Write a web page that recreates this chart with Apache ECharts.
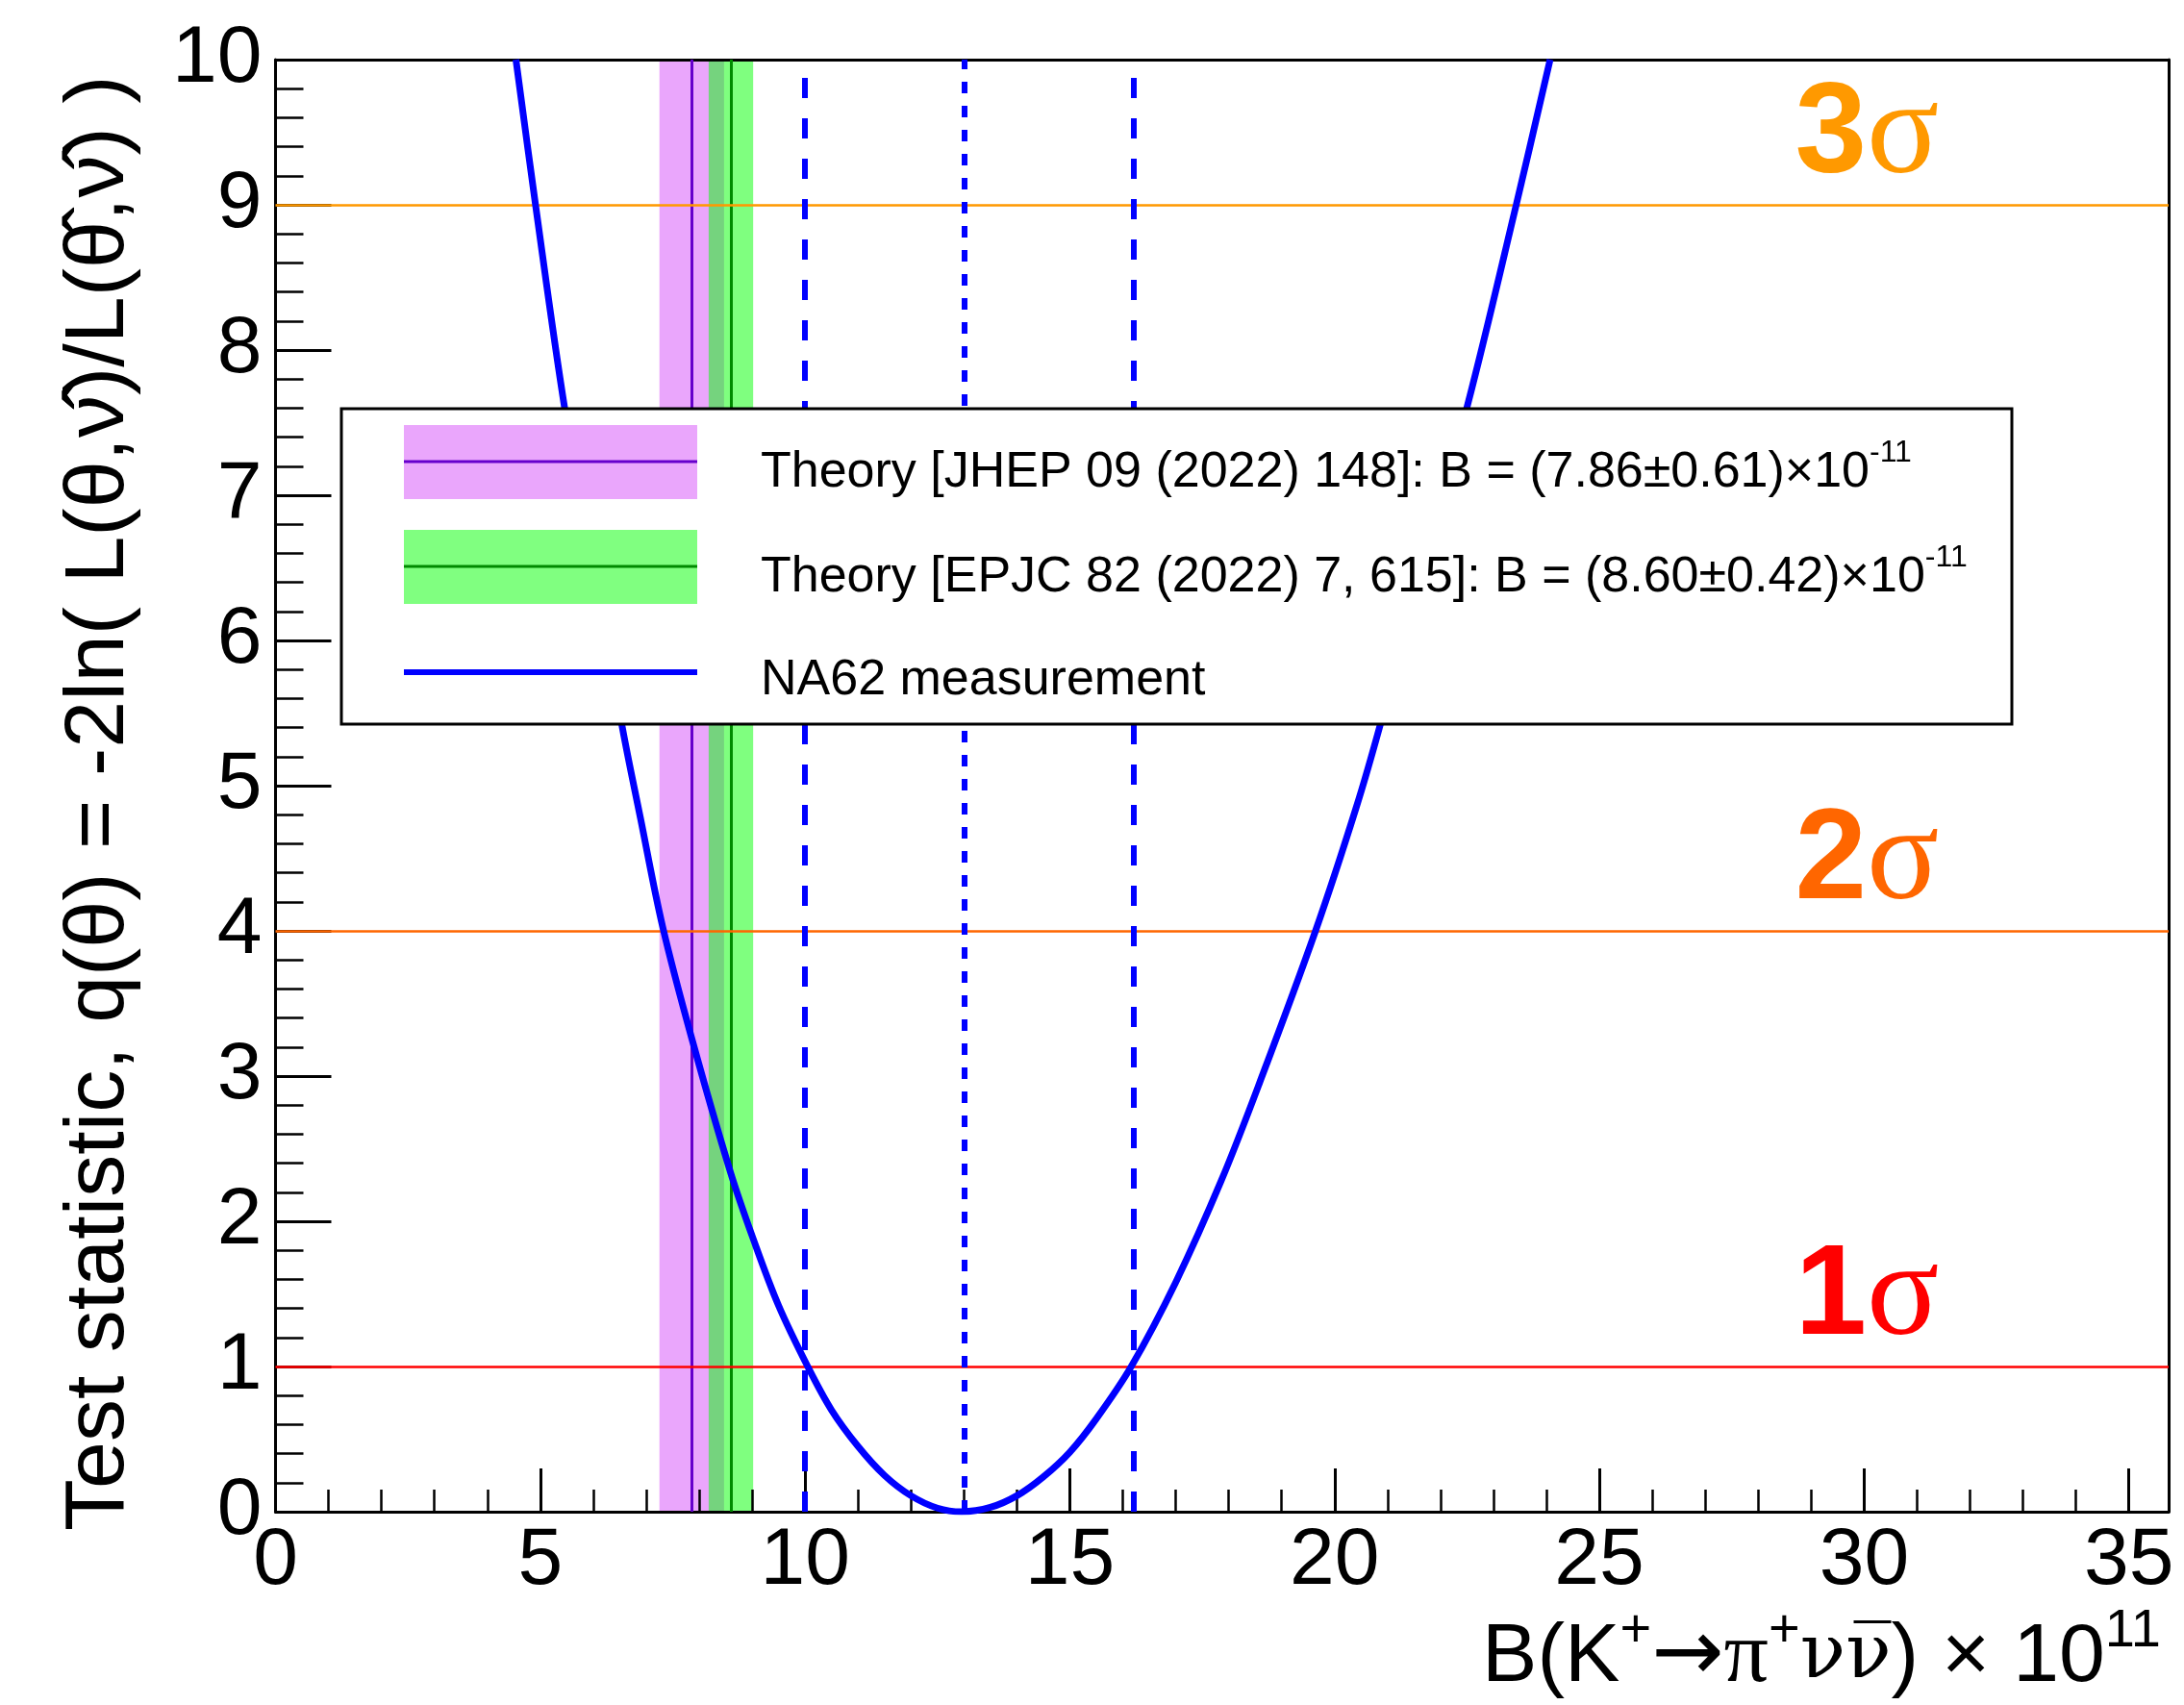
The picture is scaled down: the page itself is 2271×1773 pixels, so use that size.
<!DOCTYPE html>
<html><head><meta charset="utf-8">
<script src="https://cdn.jsdelivr.net/npm/echarts@6/dist/echarts.min.js"></script>
<style>html,body{margin:0;padding:0;background:#fff}#c{width:2271px;height:1773px}</style>
</head><body><div id="c"></div>
<script>
// ---------------- data ----------------
const xRange = [0, 35.75];
const yRange = [0, 10];
const xTicks = [0, 5, 10, 15, 20, 25, 30, 35];
const xMinorTicks = [1,2,3,4,6,7,8,9,11,12,13,14,16,17,18,19,21,22,23,24,26,27,28,29,31,32,33,34];
const yTicks = [0,1,2,3,4,5,6,7,8,9,10];

// NA62 test statistic curve: [B x 1e11, q]
const na62Curve = [
  [4.54,10.0],[4.91,9.0],[5.46,7.6],[5.78,7.0],[6.17,6.2],[6.55,5.40],[6.89,4.78],
  [7.31,4.03],[7.86,3.26],[8.59,2.34],[9.03,1.87],[9.5,1.42],[10.05,1.0],[10.5,0.70],
  [11.0,0.45],[11.5,0.25],[12.0,0.11],[12.5,0.025],[12.96,0.0],[13.5,0.03],[14.0,0.11],
  [14.5,0.24],[15.0,0.41],[15.5,0.64],[16.16,1.0],[17.0,1.58],[17.86,2.28],[18.59,2.96],
  [19.64,4.0],[20.4,4.84],[20.87,5.43],[21.5,6.3],[22.0,7.0],[22.51,7.62],[23.43,9.0],[24.07,10.0]
];
const na62Central = 13.0;
const na62Interval = [10.0, 16.2];

const theoryNames = ['Theory [JHEP 09 (2022) 148]', 'Theory [EPJC 82 (2022) 7, 615]'];
const theoryCentral = [7.86, 8.60];
const theoryError = [0.61, 0.42];

const sigmaLevels = [1, 4, 9];
const sigmaDigits = ['1', '2', '3'];
const sigmaColors = ['#ff0000', '#ff6600', '#ff9900'];
const sigmaLabelX = 30;

// ---------------- chart ----------------
const chart = echarts.init(document.getElementById('c'), null, {renderer: 'canvas'});
const FONT = "'Liberation Sans', Arial, Helvetica, sans-serif";
const SERIF = "'Liberation Serif', 'Times New Roman', serif";
const GREEKSERIF = "'DejaVu Serif', 'Liberation Serif', serif";

function band(i, color, z) {
  return {
    name: theoryNames[i], type: 'line', data: [], z: z, silent: true,
    markArea: { silent: true, itemStyle: { color: color },
      data: [[{ xAxis: theoryCentral[i] - theoryError[i] }, { xAxis: theoryCentral[i] + theoryError[i] }]] }
  };
}
function vline(name, values, color, width, type, z) {
  return {
    name: name, type: 'line', data: [], z: z, silent: true,
    markLine: { silent: true, symbol: ['none', 'none'], label: { show: false },
      lineStyle: { color: color, width: width, type: type },
      data: values.map(v => ({ xAxis: v })) }
  };
}

const AXZ = 4;
const option = {
  animation: false,
  backgroundColor: '#ffffff',
  grid: { left: 286.5, right: 16, top: 62, bottom: 201 },
  xAxis: [
    { type: 'value', min: xRange[0], max: xRange[1], position: 'bottom', z: AXZ,
      axisLine: { show: true, onZero: false, lineStyle: { color: '#000', width: 3 } },
      axisTick: { show: true, inside: true, length: 45, customValues: xTicks, lineStyle: { color: '#000', width: 3 } },
      axisLabel: { show: true, customValues: xTicks, fontSize: 84, fontFamily: FONT, color: '#000', margin: 10 },
      splitLine: { show: false } },
    { type: 'value', min: xRange[0], max: xRange[1], position: 'bottom', z: AXZ,
      axisLine: { show: false },
      axisTick: { show: true, inside: true, length: 23, customValues: xMinorTicks, lineStyle: { color: '#000', width: 2.5 } },
      axisLabel: { show: false }, splitLine: { show: false } },
    { type: 'value', min: xRange[0], max: xRange[1], position: 'top', z: AXZ,
      axisLine: { show: true, onZero: false, lineStyle: { color: '#000', width: 3 } },
      axisTick: { show: false }, axisLabel: { show: false }, splitLine: { show: false } }
  ],
  yAxis: [
    { type: 'value', min: yRange[0], max: yRange[1], interval: 1, position: 'left', z: AXZ,
      axisLine: { show: true, onZero: false, lineStyle: { color: '#000', width: 3 } },
      axisTick: { show: true, inside: true, length: 58, customValues: yTicks, lineStyle: { color: '#000', width: 3 } },
      minorTick: { show: true, splitNumber: 5, length: 29, lineStyle: { color: '#000', width: 2.5 } },
      axisLabel: { show: true, customValues: yTicks, fontSize: 84, fontFamily: FONT, color: '#000', margin: 14 },
      splitLine: { show: false } },
    { type: 'value', min: yRange[0], max: yRange[1], position: 'right', z: AXZ,
      axisLine: { show: true, onZero: false, lineStyle: { color: '#000', width: 3 } },
      axisTick: { show: false }, axisLabel: { show: false }, splitLine: { show: false } }
  ],
  series: [
    band(0, '#eaa6fc', 1),
    band(1, 'rgba(0,255,0,0.5)', 2),
    vline('JHEP central', [theoryCentral[0]], '#6600cc', 3, 'solid', 3),
    vline('EPJC central', [theoryCentral[1]], '#008a00', 3, 'solid', 3),
    { name: 'sigma levels', type: 'line', data: [], z: 5, silent: true,
      markLine: { silent: true, symbol: ['none', 'none'], label: { show: false },
        data: sigmaLevels.map((v, i) => ({ yAxis: v, lineStyle: { color: sigmaColors[i], width: 2.5, type: 'solid' } })) } },
    vline('NA62 interval', na62Interval, '#0000ff', 6, [21, 21], 6),
    vline('NA62 central', [na62Central], '#0000ff', 6, [12, 13], 6),
    { name: 'NA62 measurement', type: 'line', data: na62Curve, z: 7, showSymbol: false, silent: true,
      smooth: 0.35,
      lineStyle: { color: '#0000ff', width: 7 }, itemStyle: { color: '#0000ff' } },
    { name: 'sigma labels', type: 'scatter', z: 8, silent: true, symbolSize: 0,
      itemStyle: { opacity: 1 },
      data: sigmaLevels.map((v, i) => ({ value: [sigmaLabelX, v], digit: sigmaDigits[i],
        label: { color: sigmaColors[i] } })),
      label: { show: true, position: 'inside', offset: [3, -71], textBorderWidth: 0, opacity: 1,
        formatter: p => '{d|' + p.data.digit + '}{s|σ}',
        rich: {
          d: { fontFamily: FONT, fontWeight: 'bold', fontSize: 134, textBorderWidth: 0 },
          s: { fontFamily: SERIF, fontSize: 140, textBorderWidth: 0 }
        } } }
  ],
  graphic: [
    // legend box
    { type: 'group', zlevel: 1, z: 100, children: [
      { type: 'rect', zlevel: 1, z: 100, shape: { x: 355, y: 425, width: 1737, height: 328 },
        style: { fill: '#fff', stroke: '#000', lineWidth: 3 } },
      { type: 'rect', zlevel: 1, z: 101, shape: { x: 420, y: 442, width: 305, height: 77 }, style: { fill: '#eaa6fc' } },
      { type: 'line', zlevel: 1, z: 102, shape: { x1: 420, y1: 480, x2: 725, y2: 480 }, style: { stroke: '#6600cc', lineWidth: 3 } },
      { type: 'rect', zlevel: 1, z: 101, shape: { x: 420, y: 551, width: 305, height: 77 }, style: { fill: '#80ff80' } },
      { type: 'line', zlevel: 1, z: 102, shape: { x1: 420, y1: 589, x2: 725, y2: 589 }, style: { stroke: '#008a00', lineWidth: 3 } },
      { type: 'line', zlevel: 1, z: 102, shape: { x1: 420, y1: 699, x2: 725, y2: 699 }, style: { stroke: '#0000ff', lineWidth: 6 } },
      { type: 'text', zlevel: 1, z: 102, x: 791, y: 492, style: {
          text: '{n|' + theoryNames[0] + ': B = (' + theoryCentral[0].toFixed(2) + '±' + theoryError[0].toFixed(2) + ')×10}{s|-11}',
          textAlign: 'left', textVerticalAlign: 'middle', fill: '#000',
          rich: { n: { fontFamily: FONT, fontSize: 52, lineHeight: 74 }, s: { fontFamily: FONT, fontSize: 32, verticalAlign: 'top', lineHeight: 32 } } } },
      { type: 'text', zlevel: 1, z: 102, x: 791, y: 601, style: {
          text: '{n|' + theoryNames[1] + ': B = (' + theoryCentral[1].toFixed(2) + '±' + theoryError[1].toFixed(2) + ')×10}{s|-11}',
          textAlign: 'left', textVerticalAlign: 'middle', fill: '#000',
          rich: { n: { fontFamily: FONT, fontSize: 52, lineHeight: 74 }, s: { fontFamily: FONT, fontSize: 32, verticalAlign: 'top', lineHeight: 32 } } } },
      { type: 'text', zlevel: 1, z: 102, x: 791, y: 708, style: {
          text: 'NA62 measurement', font: '52px ' + FONT, textAlign: 'left', textVerticalAlign: 'middle', fill: '#000' } }
    ]},
    // x-axis title
    { type: 'text', zlevel: 1, z: 100, x: 2247, y: 1724, style: {
        text: '{m|B(K}{p|+}{a|→}{g|π}{p|+}{v|νν\u0305}{m|) × 10}{p|11}',
        textAlign: 'right', textVerticalAlign: 'middle', fill: '#000',
        rich: {
          m: { fontFamily: FONT, fontSize: 86, lineHeight: 110 },
          g: { fontFamily: SERIF, fontSize: 92, lineHeight: 110 },
          v: { fontFamily: GREEKSERIF, fontSize: 78, lineHeight: 110 },
          a: { fontFamily: "'DejaVu Sans', sans-serif", fontSize: 90, lineHeight: 110 },
          p: { fontFamily: FONT, fontSize: 56, lineHeight: 56, verticalAlign: 'top' }
        } } },
    // y-axis title
    { type: 'text', zlevel: 1, z: 100, x: 104, y: 1592, rotation: Math.PI / 2, style: {
        text: 'Test statistic, q(θ) = -2ln( L(θ,ν\u0302\u0302)/L(θ\u0302,ν\u0302) )',
        font: '88px ' + FONT, textAlign: 'left', textVerticalAlign: 'middle', fill: '#000' } }
  ]
};
chart.setOption(option);
</script>
</body></html>
